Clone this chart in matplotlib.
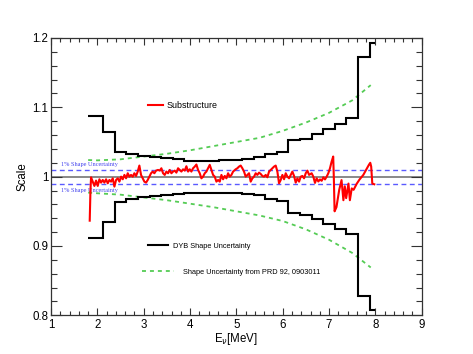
import matplotlib
matplotlib.use('Agg')
import matplotlib.pyplot as plt
from matplotlib.lines import Line2D
from matplotlib.ticker import MultipleLocator

plt.rcParams['font.family'] = ['Liberation Sans', 'DejaVu Sans']

# ---------------- data ----------------
bin_edges = [1.8, 2.125, 2.375, 2.625, 2.875, 3.125, 3.375, 3.625, 3.875, 4.125,
             4.375, 4.625, 4.875, 5.125, 5.375, 5.625, 5.875, 6.125, 6.375, 6.625,
             6.875, 7.125, 7.375, 7.625, 7.875, 8.0]
dyb_upper = [1.088, 1.065, 1.036, 1.032, 1.030, 1.029, 1.0275, 1.0255, 1.023, 1.023,
             1.023, 1.0235, 1.024, 1.025, 1.029, 1.032, 1.035, 1.053, 1.055, 1.061,
             1.069, 1.0765, 1.084, 1.172, 1.1925]
dyb_lower = [0.9115, 0.935, 0.9635, 0.968, 0.970, 0.9725, 0.974, 0.975, 0.976, 0.977,
             0.977, 0.9765, 0.976, 0.975, 0.973, 0.968, 0.965, 0.947, 0.945, 0.939,
             0.932, 0.924, 0.917, 0.828, 0.808]

prd_x = [1.8, 2.0, 2.5, 3.0, 3.5, 4.0, 4.5, 5.0, 5.5, 6.0, 6.5, 7.0, 7.5, 7.9]
prd_upper = [1.024, 1.0235, 1.025, 1.029, 1.033, 1.038, 1.044, 1.050, 1.056, 1.066,
             1.078, 1.092, 1.110, 1.132]
prd_lower = [0.977, 0.976, 0.974, 0.970, 0.966, 0.961, 0.956, 0.950, 0.944, 0.936,
             0.924, 0.909, 0.890, 0.869]

sub_x = [1.834, 1.850, 1.863, 1.899, 1.935, 1.971, 2.007, 2.043, 2.079, 2.115,
         2.151, 2.187, 2.223, 2.259, 2.295, 2.331, 2.367, 2.403, 2.439, 2.475,
         2.511, 2.547, 2.583, 2.619, 2.655, 2.690, 2.726, 2.762, 2.798, 2.834,
         2.870, 2.906, 2.942, 2.978, 3.014, 3.050, 3.086, 3.122, 3.158, 3.194,
         3.230, 3.266,
         3.309, 3.345, 3.381, 3.417, 3.453, 3.489, 3.525, 3.561, 3.597, 3.633,
         3.669, 3.705, 3.741, 3.777, 3.813, 3.849, 3.885, 3.921, 3.957, 3.993,
         4.029, 4.065, 4.101, 4.137, 4.173, 4.209, 4.245, 4.281, 4.317, 4.353,
         4.389, 4.425, 4.461, 4.497, 4.533, 4.569, 4.605, 4.641, 4.677, 4.713,
         4.749, 4.785, 4.821, 4.857, 4.893, 4.929,
         4.985, 5.021, 5.057, 5.093, 5.129, 5.165, 5.201, 5.237, 5.273, 5.309,
         5.345, 5.381, 5.417, 5.453, 5.489, 5.525, 5.561, 5.597, 5.633, 5.669,
         5.705, 5.741, 5.777, 5.813, 5.849, 5.885, 5.921, 5.957, 5.993, 6.029,
         6.065, 6.101, 6.137, 6.173, 6.209, 6.245, 6.281, 6.317, 6.353, 6.389,
         6.425, 6.461, 6.497, 6.533, 6.569,
         6.625, 6.661, 6.697, 6.733, 6.769, 6.805, 6.841, 6.877, 6.913, 6.949,
         6.985, 7.020, 7.056, 7.090, 7.105, 7.120, 7.160, 7.220, 7.270, 7.310,
         7.340, 7.370, 7.420, 7.450, 7.490, 7.530, 7.600, 7.660, 7.740, 7.800,
         7.860, 7.890, 7.910, 7.934, 7.977]
sub_y = [0.9365, 0.980, 0.999, 0.9928, 0.9866, 0.9943, 0.9866, 0.9962, 0.9914, 0.9952,
         0.9914, 0.9962, 0.9904, 0.9952, 0.9928, 0.9976, 0.9856, 0.9952, 0.9976, 0.9928,
         1.0, 0.9962, 1.0025, 0.9976, 1.0049, 1.0, 1.0025, 1.0, 1.0049, 1.001,
         1.0073, 1.0160, 1.0025, 0.9976, 0.9928, 0.9914, 0.9952, 1.0, 1.0049, 1.0073,
         1.0049, 1.0087,
         1.0097, 1.0087, 1.0121, 1.0049, 1.0025, 1.0073, 1.0049, 1.0097, 1.0049, 1.0073,
         1.0087, 1.0058, 1.0121, 1.0097, 1.0073, 1.0106, 1.0087, 1.0150, 1.0073, 1.0106,
         1.0073, 1.0121, 1.0145, 1.0175, 1.0097, 1.0049, 0.9976, 1.0, 1.0049, 1.0073,
         1.0121, 1.0170, 1.0097, 1.0025, 1.0, 0.9928, 0.9952, 0.9928, 1.0025, 0.9962,
         1.001, 0.9976, 1.0049, 1.0, 1.0025, 1.0073,
         1.0106, 1.0121, 1.0145, 1.0160, 1.0121, 1.0073, 1.0, 1.0025, 1.0049, 0.9928,
         0.9976, 1.0, 1.0049, 1.0025, 1.0058, 1.0039, 1.001, 1.0, 1.0025, 0.9991,
         1.0073, 1.0097, 1.0121, 1.0145, 1.0160, 1.0073, 0.9904, 0.9952, 1.0025, 0.9962,
         1.0049, 1.0, 0.9976, 1.0025, 1.0073, 1.001, 0.9914, 0.9976, 0.9928, 1.0,
         1.001, 0.9976, 1.0049, 1.0087, 1.0025,
         1.0049, 1.0, 0.991, 0.9976, 0.993, 0.996, 0.994, 0.999, 0.996, 1.0,
         1.005, 1.012, 1.0217, 1.0290, 0.995, 0.950, 0.956, 0.981, 0.995, 0.966,
         0.986, 0.969, 0.990, 0.966, 0.983, 0.981, 0.990, 0.996, 1.0025, 1.0097,
         1.017, 1.020, 1.0145, 0.990, 0.989]

x_ticks = [1, 2, 3, 4, 5, 6, 7, 8, 9]
x_tick_labels = ['1', '2', '3', '4', '5', '6', '7', '8', '9']
y_ticks = [0.8, 0.9, 1.0, 1.1, 1.2]
y_tick_labels = ['0.8', '0.9', '1', '1.1', '1.2']
ref_level = 1.0
band_levels = [1.01, 0.99]

# ---------------- figure ----------------
fig = plt.figure(figsize=(4.73, 3.54), dpi=100)
ax = fig.add_axes([0.108, 0.1093, 0.7835, 0.7834])

ax.axhline(ref_level, color='#808080', lw=1.3, zorder=1)
for lv in band_levels:
    ax.axhline(lv, color='#5a5aff', lw=1.0, ls=(0, (3.5, 2.5)), zorder=1)

ax.stairs(dyb_upper, bin_edges, baseline=None, color='black', lw=1.5, zorder=3)
ax.stairs(dyb_lower, bin_edges, baseline=None, color='black', lw=1.5, zorder=3)
ax.plot(prd_x, prd_upper, color='#55cc55', lw=1.3, ls=(0, (2.2, 2.2)), zorder=2)
ax.plot(prd_x, prd_lower, color='#55cc55', lw=1.3, ls=(0, (2.2, 2.2)), zorder=2)
ax.plot(sub_x, sub_y, color='#ff0000', lw=1.5, zorder=4)

ax.text(1.21, 1.0178, '1% Shape Uncertainty', color='#4444ee', fontsize=4.5,
        family=['Liberation Serif', 'DejaVu Serif'], va='center', ha='left')
ax.text(1.21, 0.9800, '1% Shape Uncertainty', color='#4444ee', fontsize=4.5,
        family=['Liberation Serif', 'DejaVu Serif'], va='center', ha='left')

ax.set_xlim(1, 9)
ax.set_ylim(0.8, 1.2)
ax.set_xticks(x_ticks)
ax.set_xticklabels(x_tick_labels)
ax.set_yticks(y_ticks)
ax.set_yticklabels(y_tick_labels)
ax.xaxis.set_minor_locator(MultipleLocator(0.2))
ax.yaxis.set_minor_locator(MultipleLocator(0.02))
ax.tick_params(which='both', direction='in', top=True, right=True, color='#333333',
               labelsize=8.3, width=0.8)
ax.tick_params(axis='x', which='major', length=4.8, pad=3)
ax.tick_params(axis='x', which='minor', length=2.6)
ax.tick_params(axis='y', which='major', length=8, pad=2)
ax.tick_params(axis='y', which='minor', length=4)
for sp in ax.spines.values():
    sp.set_color('#333333')
    sp.set_linewidth(0.9)

ax.set_xlabel(r'E$_{\nu}$[MeV]', fontsize=8.3, labelpad=0)
ax.set_ylabel('Scale', fontsize=8.3, labelpad=3)

# legends
h1 = Line2D([], [], color='#ff0000', lw=1.5)
h2 = Line2D([], [], color='black', lw=1.5)
h3 = Line2D([], [], color='#55cc55', lw=1.3, ls=(0, (2.2, 2.2)))
leg1 = ax.legend([h1], ['Substructure'], loc='center left', bbox_to_anchor=(0.261, 0.7548),
                 frameon=False, fontsize=6.4, handlelength=1.75, handletextpad=0.38,
                 borderpad=0, borderaxespad=0)
ax.add_artist(leg1)
leg2 = ax.legend([h2], ['DYB Shape Uncertainty'], loc='center left', bbox_to_anchor=(0.2625, 0.25),
                 frameon=False, fontsize=5.3, handlelength=2.64, handletextpad=0.68,
                 borderpad=0, borderaxespad=0)
ax.add_artist(leg2)
leg3 = ax.legend([h3], ['Shape Uncertainty from PRD 92, 0903011'], loc='center left',
                 bbox_to_anchor=(0.2447, 0.156), frameon=False, fontsize=5.3,
                 handlelength=4.4, handletextpad=1.22, borderpad=0, borderaxespad=0)

fig.savefig('out.png', dpi=100)
